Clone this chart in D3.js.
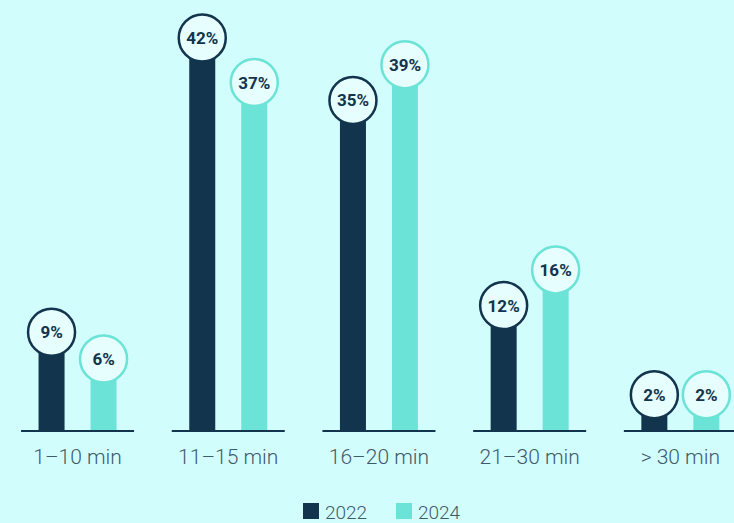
<!DOCTYPE html>
<html>
<head>
<meta charset="utf-8">
<script src="https://cdn.jsdelivr.net/npm/d3@7"></script>
<style>
  html, body { margin: 0; padding: 0; background: #d2fdfd; }
  svg { display: block; font-family: Roboto, "Noto Sans", sans-serif; }
</style>
</head>
<body>
<svg id="chart" width="734" height="523"></svg>
<script>
const categories = ["1–10 min", "11–15 min", "16–20 min", "21–30 min", "> 30 min"];
const series = ["2022", "2024"];
const values2022 = [9, 42, 35, 12, 2];
const values2024 = [6, 37, 39, 16, 2];
const seriesColors = ["#12344d", "#6be3d6"];

const svg = d3.select("#chart");
const W = 734, H = 523;
const baseline = 431;

svg.append("rect").attr("width", W).attr("height", H).attr("fill", "#d2fdfd");

const x = d3.scaleBand().domain(categories).range([2.2, 755.7]).padding(0);
const xs = d3.scaleBand().domain(series).range([-52, 52]).padding(0);
const y = d3.scaleLinear().domain([0, 42]).range([412.6, 412.6 - 8.92 * 42]);

const data = categories.map((c, i) => ({
  cat: c,
  vals: [
    { s: series[0], v: values2022[i], color: seriesColors[0] },
    { s: series[1], v: values2024[i], color: seriesColors[1] }
  ]
}));

const groups = svg.selectAll("g.grp").data(data).join("g")
  .attr("class", "grp")
  .attr("transform", d => `translate(${x(d.cat) + x.bandwidth() / 2},0)`);

// axis segment
groups.append("line")
  .attr("x1", -56.5).attr("x2", 56.5)
  .attr("y1", baseline).attr("y2", baseline)
  .attr("stroke", "#12344d").attr("stroke-width", 2);

const barW = 26;
const items = groups.selectAll("g.item").data(d => d.vals).join("g")
  .attr("class", "item")
  .attr("transform", d => `translate(${xs(d.s) + xs.bandwidth() / 2},0)`);

items.append("rect")
  .attr("x", -barW / 2)
  .attr("width", barW)
  .attr("y", d => y(d.v))
  .attr("height", d => baseline - 1 - y(d.v))
  .attr("fill", d => d.color);

items.append("circle")
  .attr("cx", 0)
  .attr("cy", d => y(d.v))
  .attr("r", 23.5)
  .attr("fill", "#e6fefe")
  .attr("stroke", d => d.color)
  .attr("stroke-width", 2.5);

items.append("text")
  .attr("x", 0)
  .attr("y", d => y(d.v) + 6)
  .attr("text-anchor", "middle")
  .attr("font-size", 17)
  .attr("font-weight", 700)
  .attr("fill", "#12344d")
  .text(d => d.v + "%");

// category labels
groups.append("text")
  .attr("x", 0)
  .attr("y", 464)
  .attr("text-anchor", "middle")
  .attr("font-size", 21)
  .attr("font-weight", 300)
  .attr("fill", "#3e5a6b")
  .text(d => d.cat);

// legend
const legendX = [303, 396];
const legend = svg.selectAll("g.leg").data(series).join("g")
  .attr("class", "leg")
  .attr("transform", (d, i) => `translate(${legendX[i]},503)`);
legend.append("rect")
  .attr("width", 16).attr("height", 16)
  .attr("fill", (d, i) => seriesColors[i]);
legend.append("text")
  .attr("x", 22).attr("y", 16)
  .attr("font-size", 19)
  .attr("font-weight", 300)
  .attr("fill", "#3e5a6b")
  .text(d => d);
</script>
</body>
</html>
